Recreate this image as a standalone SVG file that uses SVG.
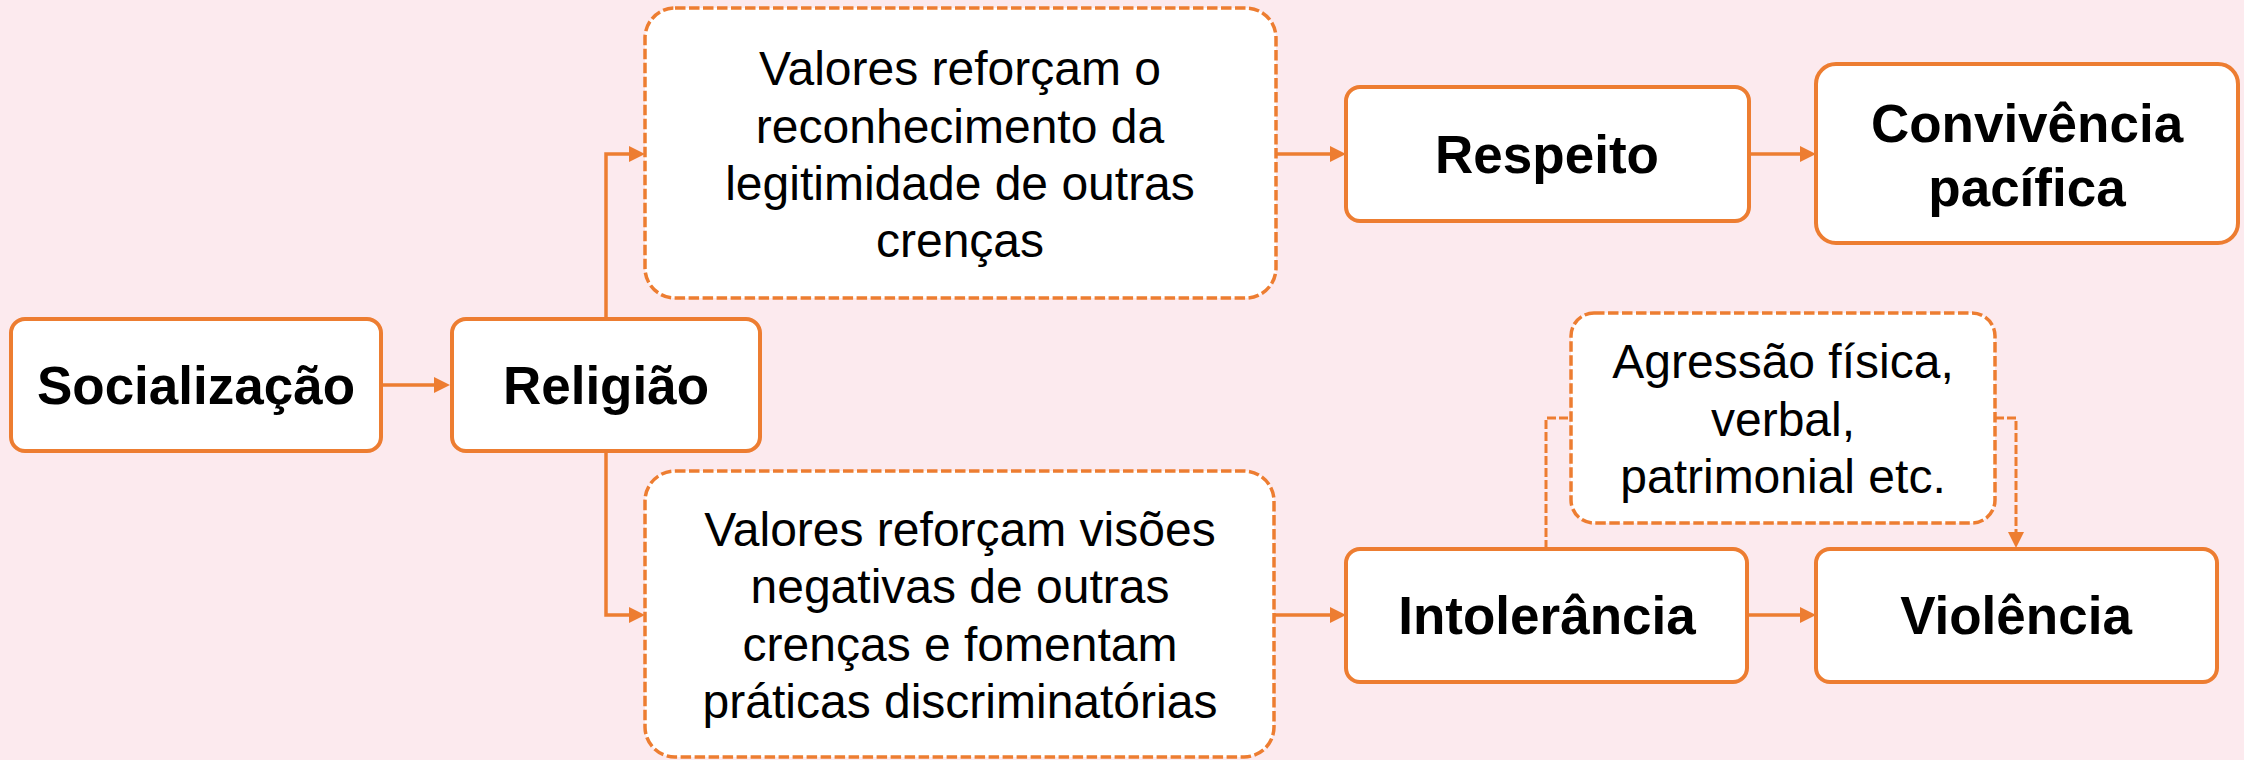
<svg xmlns="http://www.w3.org/2000/svg" width="2244" height="760" viewBox="0 0 2244 760">
  <defs>
    <style>
      .box { fill: #ffffff; stroke: #ED7D31; stroke-width: 4; }
      .dbox { fill: #ffffff; stroke: #ED7D31; stroke-width: 3.5; stroke-dasharray: 10.5 3.5; }
      .conn { fill: none; stroke: #ED7D31; stroke-width: 3.5; }
      .dconn { fill: none; stroke: #ED7D31; stroke-width: 3; stroke-dasharray: 9 3; }
      .bold { font-family: "Liberation Sans", Arial, sans-serif; font-weight: bold; font-size: 53px; fill: #000000; text-anchor: middle; }
      .norm { font-family: "Liberation Sans", Arial, sans-serif; font-size: 48px; fill: #000000; text-anchor: middle; }
    </style>
    <marker id="arrow" markerUnits="userSpaceOnUse" markerWidth="16" markerHeight="16" refX="0" refY="8" orient="auto" viewBox="0 0 16 16">
      <path d="M0,0 L16,8 L0,16 z" fill="#ED7D31"/>
    </marker>
  </defs>
  <rect x="0" y="0" width="2244" height="760" fill="#FCEAEE"/>

  <g id="connectors">
    <path class="conn" d="M381,385 L434,385" marker-end="url(#arrow)"/>
    <path class="conn" d="M606,319 L606,154 L629,154" marker-end="url(#arrow)"/>
    <path class="conn" d="M606,451 L606,615 L629,615" marker-end="url(#arrow)"/>
    <path class="conn" d="M1276,154 L1330,154" marker-end="url(#arrow)"/>
    <path class="conn" d="M1749,154 L1800,154" marker-end="url(#arrow)"/>
    <path class="conn" d="M1274,615 L1330,615" marker-end="url(#arrow)"/>
    <path class="conn" d="M1747,615 L1800,615" marker-end="url(#arrow)"/>
    <path class="dconn" d="M1546,549 L1546,418 L1571,418"/>
    <path class="dconn" d="M1995,418 L2016,418 L2016,532" marker-end="url(#arrow)"/>
  </g>

  <g id="socializacao">
    <rect class="box" x="11" y="319" width="370" height="132" rx="14"/>
    <text class="bold" x="196" y="404">Socialização</text>
  </g>
  <g id="religiao">
    <rect class="box" x="452" y="319" width="308" height="132" rx="14"/>
    <text class="bold" x="606" y="404">Religião</text>
  </g>
  <g id="valores-positivos">
    <rect class="dbox" x="645" y="8" width="631" height="290" rx="30"/>
    <text class="norm" x="960" y="85">Valores reforçam o</text>
    <text class="norm" x="960" y="143">reconhecimento da</text>
    <text class="norm" x="960" y="200">legitimidade de outras</text>
    <text class="norm" x="960" y="257">crenças</text>
  </g>
  <g id="valores-negativos">
    <rect class="dbox" x="645" y="471" width="629" height="286" rx="30"/>
    <text class="norm" x="960" y="546">Valores reforçam visões</text>
    <text class="norm" x="960" y="603">negativas de outras</text>
    <text class="norm" x="960" y="661">crenças e fomentam</text>
    <text class="norm" x="960" y="718">práticas discriminatórias</text>
  </g>
  <g id="respeito">
    <rect class="box" x="1346" y="87" width="403" height="134" rx="14"/>
    <text class="bold" x="1547" y="173">Respeito</text>
  </g>
  <g id="convivencia">
    <rect class="box" x="1816" y="64" width="422" height="179" rx="20"/>
    <text class="bold" x="2027" y="142">Convivência</text>
    <text class="bold" x="2027" y="206">pacífica</text>
  </g>
  <g id="agressao">
    <rect class="dbox" x="1571" y="313" width="424" height="210" rx="23"/>
    <text class="norm" x="1783" y="378">Agressão física,</text>
    <text class="norm" x="1783" y="436">verbal,</text>
    <text class="norm" x="1783" y="493">patrimonial etc.</text>
  </g>
  <g id="intolerancia">
    <rect class="box" x="1346" y="549" width="401" height="133" rx="14"/>
    <text class="bold" x="1547" y="634">Intolerância</text>
  </g>
  <g id="violencia">
    <rect class="box" x="1816" y="549" width="401" height="133" rx="14"/>
    <text class="bold" x="2016" y="634">Violência</text>
  </g>
</svg>
